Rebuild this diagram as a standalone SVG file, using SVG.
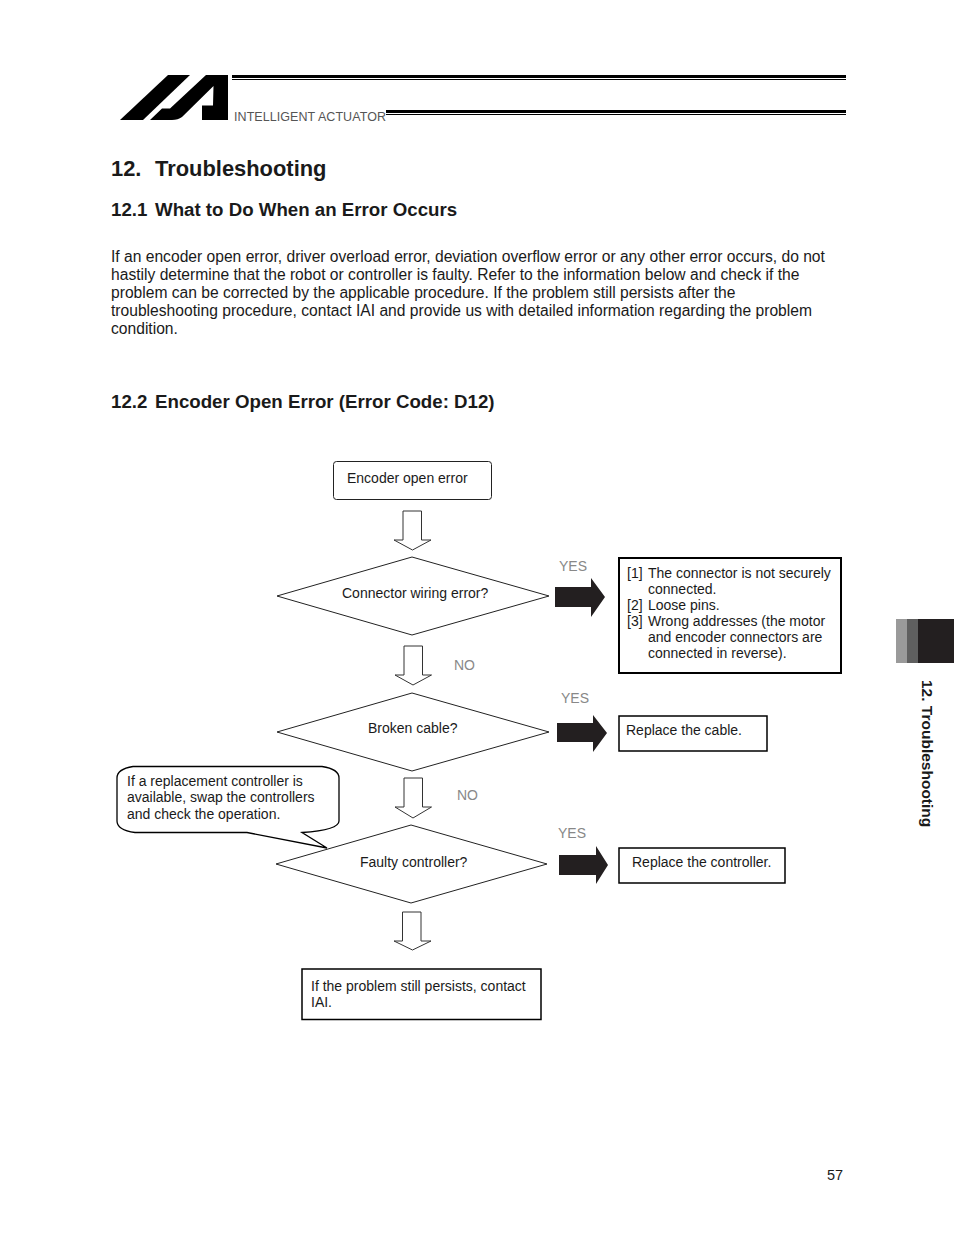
<svg xmlns="http://www.w3.org/2000/svg" width="954" height="1235" viewBox="0 0 954 1235">
<style>
text{font-family:"Liberation Sans",Arial,sans-serif;fill:#1a1a1a}
.b{font-size:15.63px}
.f{font-size:14px}
.h{font-weight:bold;font-size:18.7px}
.t{font-weight:bold;font-size:21.9px}
.yn{font-size:14px;fill:#888}
.dm{fill:#fff;stroke:#222;stroke-width:1}
.box{fill:#fff;stroke:#000;stroke-width:2}
.oa{fill:#fff;stroke:#333;stroke-width:1}
.ba{fill:#231f20}
</style>
<rect width="954" height="1235" fill="#fff"/>
<g id="logo">
<path d="M168 75H190L143 120H120Z" fill="#000"/>
<path d="M206 75H228V120H202V105.500H213L213.500 86L182 117Q178 120 172 120H150L162 108.500H170Z" fill="#000"/>
<rect x="232" y="75" width="614" height="3" fill="#000"/>
<rect x="232" y="79" width="614" height="1" fill="#000"/>
<rect x="386" y="110" width="460" height="3" fill="#000"/>
<rect x="386" y="114" width="460" height="1" fill="#000"/>
<text x="234" y="121" font-size="12.500" textLength="152" lengthAdjust="spacing" style="fill:#555">INTELLIGENT ACTUATOR</text>
</g>
<text class="t" x="111" y="176">12.</text>
<text class="t" x="155" y="176">Troubleshooting</text>
<text class="h" x="111" y="216">12.1</text>
<text class="h" x="155" y="216">What to Do When an Error Occurs</text>
<g>
<text class="b" x="111" y="262">If an encoder open error, driver overload error, deviation overflow error or any other error occurs, do not</text>
<text class="b" x="111" y="280">hastily determine that the robot or controller is faulty. Refer to the information below and check if the</text>
<text class="b" x="111" y="298">problem can be corrected by the applicable procedure. If the problem still persists after the</text>
<text class="b" x="111" y="316">troubleshooting procedure, contact IAI and provide us with detailed information regarding the problem</text>
<text class="b" x="111" y="334">condition.</text>
</g>
<text class="h" x="111" y="408">12.2</text>
<text class="h" x="155" y="408">Encoder Open Error (Error Code: D12)</text>
<g id="connectors">
<path class="oa" d="M403 511H421.500V540H431L412.500 550L394 540H403Z"/>
<path class="oa" d="M404 646H422.500V675H431.500L413 685L395 675H404Z"/>
<path class="oa" d="M404 778H422.500V807H431.500L413 818L395 807H404Z"/>
<path class="oa" d="M402.500 912H421V941H431L412.500 950L394 941H402.500Z"/>
<path class="ba" d="M555 587H591V578L605 597L591 617V607H555Z"/>
<path class="ba" d="M557 723H593V715L607 733L593 752V742H557Z"/>
<path class="ba" d="M559 855H596V846L608 865L596 884V875H559Z"/>
</g>
<g id="n1"><rect x="333.500" y="461.500" width="158" height="38" rx="3" fill="#fff" stroke="#222"/><text class="f" x="347" y="483">Encoder open error</text></g>
<g id="d1"><path class="dm" d="M412 557L549 596L412 635L277 596Z"/><text class="f" x="342" y="598">Connector wiring error?</text></g>
<g id="d2"><path class="dm" d="M412 693L549 732L412 771L277 732Z"/><text class="f" x="368" y="733">Broken cable?</text></g>
<g id="d3"><path class="dm" d="M411 825L547 864L411 903L276 864Z"/><text class="f" x="360" y="867">Faulty controller?</text></g>
<g id="callout"><path d="M133 766.500H322Q339 769 339 778V821Q339 830 302 832.500L327 848L247 832.500H135Q117 830 117 821V778Q117 769 133 766.500Z" fill="#fff" stroke="#000" stroke-width="1.300"/>
<text class="f" x="127" y="786">If a replacement controller is</text><text class="f" x="127" y="802">available, swap the controllers</text><text class="f" x="127" y="819">and check the operation.</text></g>
<g id="r1"><rect class="box" x="619" y="558" width="222" height="115"/>
<text class="f" x="627" y="578">[1]</text><text class="f" x="648" y="578">The connector is not securely</text>
<text class="f" x="648" y="594">connected.</text>
<text class="f" x="627" y="610">[2]</text><text class="f" x="648" y="610">Loose pins.</text>
<text class="f" x="627" y="626">[3]</text><text class="f" x="648" y="626">Wrong addresses (the motor</text>
<text class="f" x="648" y="642">and encoder connectors are</text>
<text class="f" x="648" y="658">connected in reverse).</text></g>
<g id="r2"><path d="M619 716H767V751H619Z" fill="#fff" stroke="#000" stroke-width="1.500"/><text class="f" x="626" y="735">Replace the cable.</text></g>
<g id="r3"><path d="M619 848H785V883H619Z" fill="#fff" stroke="#000" stroke-width="1.500"/><text class="f" x="632" y="867">Replace the controller.</text></g>
<g id="end"><path d="M302 969H541V1019.500H302Z" fill="#fff" stroke="#000" stroke-width="1.500"/><text class="f" x="311" y="991">If the problem still persists, contact</text><text class="f" x="311" y="1007">IAI.</text></g>
<text class="yn" x="559" y="571">YES</text>
<text class="yn" x="454" y="670">NO</text>
<text class="yn" x="561" y="703">YES</text>
<text class="yn" x="457" y="800">NO</text>
<text class="yn" x="558" y="838">YES</text>
<g id="tab"><rect x="896" y="619" width="11" height="44" fill="#9a9a9a"/><rect x="907" y="619" width="11" height="44" fill="#5f5f5f"/><rect x="918" y="619" width="36" height="44" fill="#231f20"/></g>
<text transform="translate(922,680) rotate(90)" font-size="15.500" font-weight="bold">12. Troubleshooting</text>
<text x="827" y="1180" font-size="14.500">57</text>
</svg>
